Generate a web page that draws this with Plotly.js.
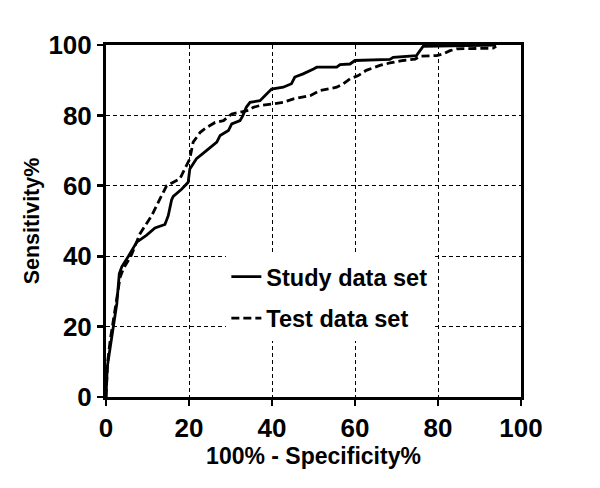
<!DOCTYPE html>
<html>
<head>
<meta charset="utf-8">
<script src="https://cdn.plot.ly/plotly-3.0.1.min.js"></script>
<style>html,body{margin:0;padding:0;background:#fff;}#chart{width:600px;height:488px;}</style>
</head>
<body>
<div id="chart"></div>
<script>
const studyName = "Study data set";
const studyX = [0,0.3,1,1.8,2.6,3.2,3.8,5.4,7.4,9.8,11.8,14.2,15,15.8,16.2,18.2,19.8,20.2,21.8,24.2,26.7,27.5,29.5,30.3,32.3,33,33.8,34.7,37.1,38.7,39.9,42.7,44.7,45.5,47.5,50,50.8,55.6,56.4,58.8,60,68.4,69.2,74.8,76,76.4,94];
const studyY = [0,8.5,14,20,26.5,35,37,40,44,46,48,49,51.5,56,57,59,61,64.8,67.7,70,72.4,74.3,75.7,77.6,78.5,80,82.3,83.7,84.2,86.1,87.5,88,89,90.9,91.8,93.2,93.7,93.7,94.4,94.6,95.6,95.9,96.5,97,98.9,99.6,100];

const testName = "Test data set";
const testX = [0,0.4,1,1.8,2.6,3.4,4.2,6,8.2,11,13,14.6,17.8,19,20.2,21,22.7,24.3,26.3,28.3,30.3,32.3,34.3,35.5,37.1,40.3,42.7,45.2,47,49.2,51.6,55.6,57.2,58.8,60.8,62.7,66,68.4,71.6,74.5,75.7,79.7,81.3,82.9,84.5,89.3,93.3,94];
const testY = [0,10,16,22,28,34,36.5,40,46.4,51.5,56.3,60,62,64.8,67.7,72.4,75.2,76.6,78,78.5,80.4,80.9,81.4,82.3,82.8,83.3,83.7,84.7,85.2,85.6,87.1,88,89,90.4,91.3,92.8,94.2,94.9,95.6,96,96.8,97,97.5,98.4,98.9,98.9,99.1,99.6];

const tickVals = [0,20,40,60,80,100];
const xTitle = "100% - Specificity%";
const yTitle = "Sensitivity%";

const FONT = "Liberation Sans, Arial, sans-serif";

const traces = [
  {x: studyX, y: studyY, name: studyName, type: "scatter", mode: "lines",
   line: {color: "#000", width: 2.8}, legendgroup: "a"},
  {x: testX, y: testY, name: testName, type: "scatter", mode: "lines",
   line: {color: "#000", width: 2.8, dash: "8px,4px"}, legendgroup: "b"}
];

const axisCommon = {
  range: [0, 100], tickvals: tickVals, ticks: "outside", ticklen: 6, tickwidth: 2.8,
  tickcolor: "#000", showline: true, linecolor: "#000", linewidth: 3, mirror: true,
  showgrid: true, gridcolor: "#000", gridwidth: 1, griddash: "4px,3px", zeroline: false,
  tickfont: {family: FONT, size: 26, color: "#000", weight: "bold"}, automargin: false, fixedrange: true
};

const layout = {
  width: 600, height: 488,
  margin: {l: 106, r: 79, t: 45, b: 91},
  paper_bgcolor: "#fff", plot_bgcolor: "#fff",
  showlegend: true,
  legend: {x: 0.29, y: 0.404, xanchor: "left", yanchor: "top", bgcolor: "#fff", borderwidth: 0,
           font: {family: FONT, size: 23.5, color: "#000", weight: "bold"}, tracegroupgap: 8,
           itemwidth: 30},
  xaxis: Object.assign({}, axisCommon, {
    title: {text: xTitle, font: {family: FONT, size: 23, color: "#000", weight: "bold"}, standoff: 6}
  }),
  yaxis: Object.assign({}, axisCommon, {
    title: {text: yTitle, font: {family: FONT, size: 21.5, color: "#000", weight: "bold"}, standoff: 3}
  })
};

Plotly.newPlot("chart", traces, layout, {staticPlot: true, displayModeBar: false});
</script>
</body>
</html>
